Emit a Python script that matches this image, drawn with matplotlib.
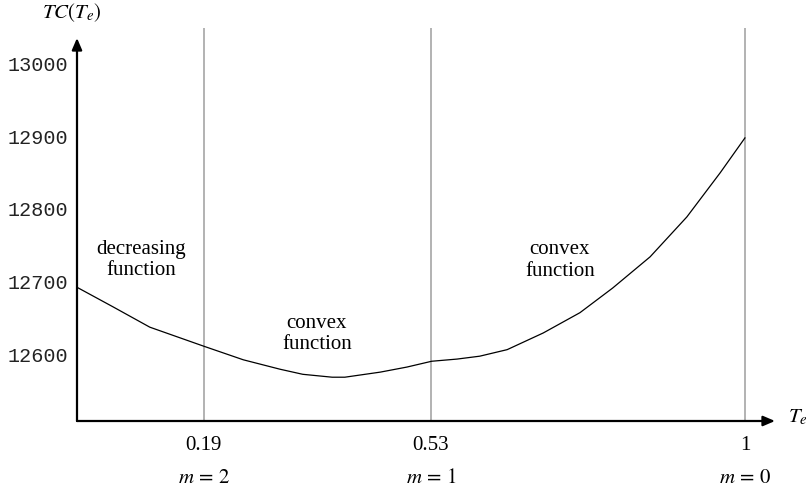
import numpy as np
import matplotlib.pyplot as plt

plt.rcParams["mathtext.fontset"] = "stix"

# curve
te = [0.0, 0.054, 0.109, 0.189, 0.249, 0.304, 0.338, 0.382, 0.401, 0.454, 0.494,
      0.531, 0.569, 0.603, 0.644, 0.698, 0.753, 0.802, 0.858, 0.913, 0.963, 1.0]
tc = [12692, 12665, 12637, 12611, 12592, 12579, 12572, 12568, 12568, 12575, 12582,
      12590, 12593, 12597, 12606, 12629, 12657, 12691, 12734, 12789, 12850, 12898]

breaks = [0.19, 0.53, 1.0]
break_labels = ["0.19", "0.53", "1"]
m_labels = ["$m\\,=\\,2$", "$m\\,=\\,1$", "$m\\,=\\,0$"]
yticks = [12600, 12700, 12800, 12900, 13000]

regions = ["decreasing\nfunction", "convex\nfunction", "convex\nfunction"]
region_x = [0.096, 0.359, 0.723]
region_y = [12730, 12628, 12729]

W, H = 811, 490
fig = plt.figure(figsize=(W / 100, H / 100), dpi=100)
ax = fig.add_axes([77 / W, (H - 421) / H, (775 - 77) / W, (421 - 38) / H])

ax.set_xlim(0, 1.045)
ax.set_ylim(12507.6, 13035.8)

for s in ax.spines.values():
    s.set_visible(False)

# axes as arrows
ax.annotate("", xy=(1, 0), xytext=(0, 0), xycoords="axes fraction",
            arrowprops=dict(arrowstyle="-|>,head_length=0.7,head_width=0.3",
                            lw=1.6, color="black", shrinkA=0, shrinkB=0))
ax.annotate("", xy=(0, 1), xytext=(0, 0), xycoords="axes fraction",
            arrowprops=dict(arrowstyle="-|>,head_length=0.7,head_width=0.3",
                            lw=1.6, color="black", shrinkA=0, shrinkB=0))

# region boundaries
ax.vlines(breaks, 12507.6, 13050, colors="#a6a6a6", lw=1.2, clip_on=False)

ax.plot(te, tc, color="black", lw=0.9)

ax.set_xticks([])
ax.set_yticks(yticks)
ax.set_yticklabels([str(v) for v in yticks], family="Liberation Mono", fontsize=14.5,
                   color="#222222")
ax.tick_params(axis="y", length=0, pad=6)

tr = ax.get_xaxis_transform()
for b, lab, ml in zip(breaks, break_labels, m_labels):
    ax.text(b, -0.063, lab, transform=tr, ha="center", va="center",
            family="Liberation Serif", fontsize=15)
    ax.text(b, -0.146, ml, transform=tr, ha="center", va="center", fontsize=15)

for txt, x, y in zip(regions, region_x, region_y):
    ax.text(x, y, txt, ha="center", va="center", family="Liberation Serif",
            fontsize=15, linespacing=1.15)

ax.text(1.033, 0.01, "$T_e$", transform=ax.transAxes, ha="center", va="center", fontsize=15)
ax.text(-0.007, 1.065, "$TC(T_e)$", transform=ax.transAxes, ha="center", va="center", fontsize=15)

fig.savefig("out.png", dpi=100)
